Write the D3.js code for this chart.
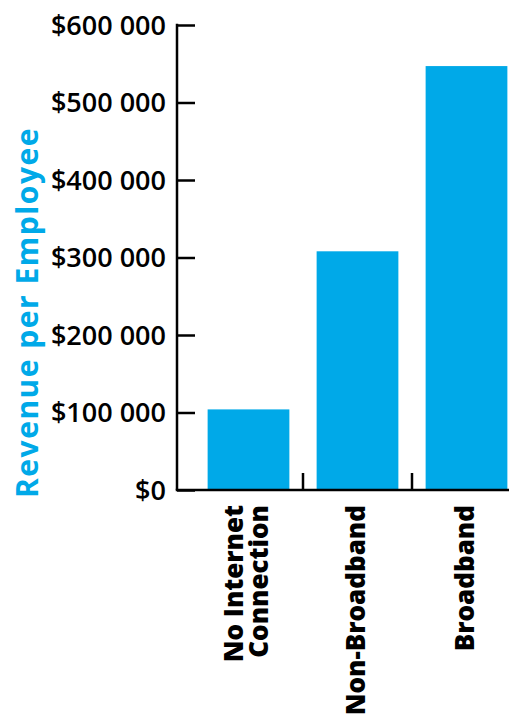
<!DOCTYPE html>
<html>
<head>
<meta charset="utf-8">
<script src="https://cdn.jsdelivr.net/npm/d3@7"></script>
<style>
  body { margin: 0; background: #fff; }
  svg { display: block; }
</style>
</head>
<body>
<div id="chart"></div>
<script>
// categories (multi-line labels) and revenue per employee
const categories = ["No Internet Connection", "Non-Broadband", "Broadband"];
const categoryLines = [["No Internet", "Connection"], ["Non-Broadband"], ["Broadband"]];
const revenue = [104000, 308000, 547000];
const yTicks = [0, 100000, 200000, 300000, 400000, 500000, 600000];

const W = 509, H = 714;
const blue = "#00a9e8";
const font = "'Open Sans', sans-serif";

const svg = d3.select("#chart").append("svg")
  .attr("width", W)
  .attr("height", H);

const y = d3.scaleLinear()
  .domain([0, 600000])
  .range([490, 25]);

const x = d3.scaleBand()
  .domain(categories)
  .range([194, 521])
  .paddingInner(0.25)
  .paddingOuter(0.125);

const axisX = 177;

//bars
svg.selectAll(".bar")
  .data(revenue)
  .enter().append("rect")
  .attr("class", "bar")
  .attr("x", (d, i) => x(categories[i]))
  .attr("width", x.bandwidth())
  .attr("y", d => y(d))
  .attr("height", d => y(0) - y(d))
  .style("fill", blue);

//y axis: ticks point right, labels on the left
const fmt = v => "$" + d3.format(",")(v).replace(/,/g, " ");
const yAxis = svg.append("g")
  .attr("transform", `translate(${axisX},0)`)
  .call(d3.axisRight(y).tickValues(yTicks).tickSize(18).tickFormat(fmt));
yAxis.select(".domain").remove();
yAxis.selectAll(".tick line")
  .attr("stroke", "#000")
  .attr("stroke-width", 2.5);
yAxis.selectAll(".tick text")
  .attr("x", -11)
  .attr("dy", "0.35em")
  .attr("text-anchor", "end")
  .style("font-family", font)
  .style("font-weight", 600)
  .style("font-size", "27px")
  .style("fill", "#000");

svg.append("line")
  .attr("x1", axisX).attr("x2", axisX)
  .attr("y1", y(600000) - 1.25).attr("y2", y(0))
  .attr("stroke", "#000")
  .attr("stroke-width", 2.5);

//baseline
svg.append("line")
  .attr("x1", axisX - 1.25).attr("x2", W)
  .attr("y1", y(0)).attr("y2", y(0))
  .attr("stroke", "#000")
  .attr("stroke-width", 2.5);

//separator ticks between categories
const step = x.step();
svg.selectAll(".sep")
  .data(categories.slice(1))
  .enter().append("line")
  .attr("class", "sep")
  .attr("x1", d => x(d) - step * x.paddingInner() / 2)
  .attr("x2", d => x(d) - step * x.paddingInner() / 2)
  .attr("y1", y(0) - 17)
  .attr("y2", y(0))
  .attr("stroke", "#000")
  .attr("stroke-width", 2.5);

//category labels, rotated
const catG = svg.selectAll(".cat")
  .data(categories)
  .enter().append("g")
  .attr("class", "cat")
  .attr("transform", d => `translate(${x(d) + x.bandwidth() / 2 - 2},505) rotate(-90)`);

catG.append("text")
  .attr("text-anchor", "end")
  .style("font-family", font)
  .style("font-weight", 800)
  .style("font-size", "26px")
  .style("fill", "#000")
  .each(function(d, i) {
    const lines = categoryLines[i];
    const t = d3.select(this);
    const lh = 25;
    const off = -(lines.length - 1) * lh / 2;
    lines.forEach((ln, j) => {
      t.append("tspan")
        .attr("x", 0)
        .attr("y", off + j * lh)
        .attr("dy", "0.36em")
        .text(ln);
    });
  });

//y axis title
svg.append("text")
  .attr("transform", `translate(38,${(130 + 495) / 2}) rotate(-90)`)
  .attr("text-anchor", "middle")
  .style("font-family", font)
  .style("font-weight", 700)
  .style("font-size", "30px")
  .style("letter-spacing", "1.5px")
  .style("fill", blue)
  .text("Revenue per Employee");
</script>
</body>
</html>
